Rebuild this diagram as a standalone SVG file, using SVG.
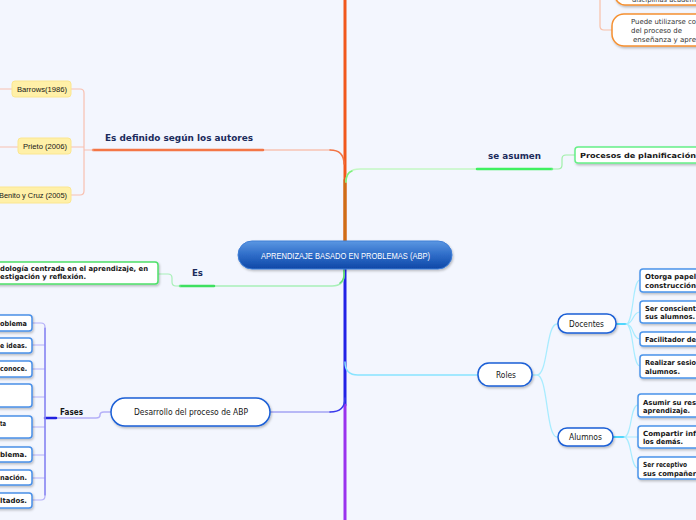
<svg xmlns="http://www.w3.org/2000/svg" width="696" height="520" viewBox="0 0 696 520">
<defs>
<linearGradient id="gC" x1="0" y1="0" x2="0" y2="1">
<stop offset="0" stop-color="#5b97e2"/>
<stop offset="0.5" stop-color="#2e6cc8"/>
<stop offset="1" stop-color="#0e47a6"/>
</linearGradient>
<filter id="sh" x="-20%" y="-30%" width="140%" height="170%">
<feDropShadow dx="1" dy="1.5" stdDeviation="0.8" flood-color="#000" flood-opacity="0.25"/>
</filter>
<style>
.lbl{font-family:"DejaVu Sans","Liberation Sans",sans-serif;font-weight:bold;font-size:9px;fill:#1b2b5c}
.nt{font-family:"DejaVu Sans","Liberation Sans",sans-serif;font-size:8.5px;fill:#161616}
.sb{font-family:"DejaVu Sans","Liberation Sans",sans-serif;font-weight:bold;font-size:7px;fill:#161616}
.sr{font-family:"DejaVu Sans","Liberation Sans",sans-serif;font-size:7px;fill:#333}
.au{font-family:"Liberation Sans","DejaVu Sans",sans-serif;font-size:8px;fill:#161616}
.ct{font-family:"Liberation Sans","DejaVu Sans",sans-serif;font-size:8.5px;fill:#fff}
.c{fill:none;stroke-linecap:round}
.box{fill:#fff;stroke-width:1.5}
</style>
</defs>
<rect width="696" height="520" fill="#f3f6fe"/>

<g id="connectors">
<!-- trunk -->
<path class="c" d="M345,241 V0" stroke="#f1581d" stroke-width="3"/>
<path class="c" d="M345,241 V180" stroke="#cd6e16" stroke-width="3"/>
<path class="c" d="M345,269 V405" stroke="#2222e6" stroke-width="3"/>
<path class="c" d="M345,405 V520" stroke="#9a32ee" stroke-width="3"/>
<!-- Es definido -->
<path class="c" d="M263,150 H330" stroke="#f8c4b4" stroke-width="1.5"/>
<path class="c" d="M330,150 Q344,150 344,164" stroke="#f27444" stroke-width="1.5"/>
<path class="c" d="M93,150 H263" stroke="#f47646" stroke-width="2.5"/>
<path class="c" d="M93,150 H84 M71,89 H80 Q84,89 84,93 V191 Q84,195 80,195 H71 M71,147 H84" stroke="#f8c0b0" stroke-width="1.2"/>
<path class="c" d="M0,89 H12 M0,147 H18" stroke="#f8c0b0" stroke-width="1.2"/>
<!-- Es -->
<path class="c" d="M344,270 V275 Q344,286 332,286 H214" stroke="#a8f0b8" stroke-width="1.5"/>
<path class="c" d="M344,270 V275 Q344,280 340,283" stroke="#5ee070" stroke-width="1.5"/>
<path class="c" d="M214,286 H180" stroke="#3ee060" stroke-width="2.5"/>
<path class="c" d="M180,286 H176 Q172,286 172,282 V278 Q172,274 168,274 H158" stroke="#a8f0b8" stroke-width="1.2"/>
<!-- se asumen -->
<path class="c" d="M346,182 Q346,169 360,169 H477" stroke="#c4f8c4" stroke-width="1.5"/>
<path class="c" d="M346,182 Q346,173 352,171" stroke="#7ef07e" stroke-width="1.5"/>
<path class="c" d="M477,169 H552" stroke="#3ef060" stroke-width="2.5"/>
<path class="c" d="M552,169 H558 Q562,169 562,165 V159 Q562,155 566,155 H575" stroke="#a0f0a8" stroke-width="1.2"/>
<!-- top right orange -->
<path class="c" d="M600,0 V26 Q600,30 604,30 H612" stroke="#f8c0a8" stroke-width="1.2"/>
<!-- Desarrollo -->
<path class="c" d="M270,412 H330" stroke="#a4a4f4" stroke-width="1.5"/>
<path class="c" d="M330,412 Q345,412 345,398" stroke="#3a3aec" stroke-width="1.5"/>
<path class="c" d="M111,412 H104 Q100,412 100,415 Q100,418 96,418 H56" stroke="#b4b0f8" stroke-width="1.5"/>
<path class="c" d="M56,418 H45" stroke="#2020e0" stroke-width="2.5"/>
<path class="c" d="M32,323 H41 Q45,323 45,327 V496 Q45,500 41,500 H32 M32,345 H45 M32,369 H45 M32,397 H45 M32,427 H45 M32,455 H45 M32,478 H45" stroke="#b4b0f8" stroke-width="1.2"/>
<path class="c" d="M45,328 V495" stroke="#7a78f0" stroke-width="1.2"/>
<!-- Roles -->
<path class="c" d="M345,362 Q345,375 358,375 H478" stroke="#88e4ff" stroke-width="1.5"/>
<path class="c" d="M532,375 H537 C548,375 546,324 557,324 M532,375 H537 C548,375 546,437 557,437" stroke="#a8ecff" stroke-width="1.3"/>
<path class="c" d="M616,324 H626" stroke="#50d6fc" stroke-width="2"/>
<path class="c" d="M626,324 C634,324 632,280 640,280 M626,324 C634,324 632,312 640,312 M626,324 C634,324 632,339 640,339 M626,324 C634,324 632,366 640,366" stroke="#a8ecff" stroke-width="1.2"/>
<path class="c" d="M613,437 H624" stroke="#50d6fc" stroke-width="2"/>
<path class="c" d="M624,437 C632,437 630,405 638,405 M624,437 H638 M624,437 C632,437 630,468 638,468" stroke="#a8ecff" stroke-width="1.2"/>
</g>

<g id="central">
<rect x="238" y="241" width="214" height="28" rx="14" fill="url(#gC)" stroke="#3f7ed6" stroke-width="1" filter="url(#sh)"/>
<text class="ct" x="261" y="259" textLength="169" lengthAdjust="spacingAndGlyphs">APRENDIZAJE BASADO EN PROBLEMAS (ABP)</text>
</g>

<g id="lbl-definido"><text class="lbl" x="105" y="141" textLength="148" lengthAdjust="spacingAndGlyphs">Es definido según los autores</text></g>
<g id="lbl-asumen"><text class="lbl" x="488" y="159" textLength="53" lengthAdjust="spacingAndGlyphs">se asumen</text></g>
<g id="lbl-es"><text class="lbl" x="192" y="276" textLength="11" lengthAdjust="spacingAndGlyphs">Es</text></g>
<g id="lbl-fases"><text class="lbl" x="60" y="415" font-size="8" style="fill:#161616" textLength="23" lengthAdjust="spacingAndGlyphs">Fases</text></g>

<g id="barrows">
<rect x="12" y="81" width="59" height="16" rx="3" fill="#fff0a8" stroke="#fbe690" stroke-width="1"/>
<text class="au" x="17" y="92" textLength="50" lengthAdjust="spacingAndGlyphs">Barrows(1986)</text>
</g>
<g id="prieto">
<rect x="18" y="138" width="53" height="16" rx="3" fill="#fff0a8" stroke="#fbe690" stroke-width="1"/>
<text class="au" x="23" y="149" textLength="44" lengthAdjust="spacingAndGlyphs">Prieto (2006)</text>
</g>
<g id="benito">
<rect x="-5" y="187" width="76" height="16" rx="3" fill="#fff0a8" stroke="#fbe690" stroke-width="1"/>
<text class="au" x="-1" y="198" textLength="68" lengthAdjust="spacingAndGlyphs">Benito y Cruz (2005)</text>
</g>

<g id="es-node">
<rect class="box" x="-10" y="262" width="168" height="22" rx="3" stroke="#4fe06a" filter="url(#sh)"/>
<text class="sb" x="0" y="271" textLength="148" lengthAdjust="spacingAndGlyphs">dología centrada en el aprendizaje, en</text>
<text class="sb" x="0" y="279" textLength="86" lengthAdjust="spacingAndGlyphs">estigación y reflexión.</text>
</g>

<g id="procesos">
<rect class="box" x="575" y="147" width="140" height="16" rx="3" stroke="#66f088" filter="url(#sh)"/>
<text class="sb" x="580" y="158" font-size="8" textLength="116" lengthAdjust="spacingAndGlyphs">Procesos de planificación</text>
</g>

<g id="disciplinas">
<rect class="box" x="615" y="-30" width="120" height="35" rx="10" stroke="#f59030" filter="url(#sh)"/>
<text class="sr" x="632" y="1.5" textLength="64" lengthAdjust="spacingAndGlyphs">disciplinas académ</text>
</g>
<g id="puede">
<rect class="box" x="612" y="14" width="120" height="32" rx="12" stroke="#f59030" filter="url(#sh)"/>
<text class="sr" x="631" y="24" textLength="65" lengthAdjust="spacingAndGlyphs">Puede utilizarse co</text>
<text class="sr" x="631" y="33" textLength="51" lengthAdjust="spacingAndGlyphs">del proceso de</text>
<text class="sr" x="633" y="42" textLength="63" lengthAdjust="spacingAndGlyphs">enseñanza y apre</text>
</g>

<g id="desarrollo">
<rect class="box" x="111" y="398" width="159" height="28" rx="14" stroke="#1a5fd6" filter="url(#sh)"/>
<text class="nt" x="134" y="415" textLength="114" lengthAdjust="spacingAndGlyphs">Desarrollo del proceso de ABP</text>
</g>

<g id="fase1"><rect class="box" x="-10" y="315" width="42" height="16" rx="3" stroke="#4a90e8" filter="url(#sh)"/><text class="sb" x="0" y="326" textLength="27" lengthAdjust="spacingAndGlyphs">oblema</text></g>
<g id="fase2"><rect class="box" x="-10" y="338" width="42" height="15" rx="3" stroke="#4a90e8" filter="url(#sh)"/><text class="sb" x="0" y="348" textLength="27" lengthAdjust="spacingAndGlyphs">e ideas.</text></g>
<g id="fase3"><rect class="box" x="-10" y="361" width="42" height="16" rx="3" stroke="#4a90e8" filter="url(#sh)"/><text class="sb" x="0" y="371" textLength="27" lengthAdjust="spacingAndGlyphs">conoce.</text></g>
<g id="fase4"><rect class="box" x="-10" y="384" width="42" height="23" rx="3" stroke="#4a90e8" filter="url(#sh)"/></g>
<g id="fase5"><rect class="box" x="-10" y="416" width="42" height="22" rx="3" stroke="#4a90e8" filter="url(#sh)"/><text class="sb" x="0" y="426" textLength="6" lengthAdjust="spacingAndGlyphs">ta</text></g>
<g id="fase6"><rect class="box" x="-10" y="447" width="42" height="15" rx="3" stroke="#4a90e8" filter="url(#sh)"/><text class="sb" x="0" y="457" textLength="27" lengthAdjust="spacingAndGlyphs">blema.</text></g>
<g id="fase7"><rect class="box" x="-10" y="470" width="42" height="15" rx="3" stroke="#4a90e8" filter="url(#sh)"/><text class="sb" x="0" y="480" textLength="27" lengthAdjust="spacingAndGlyphs">nación.</text></g>
<g id="fase8"><rect class="box" x="-10" y="493" width="42" height="15" rx="3" stroke="#4a90e8" filter="url(#sh)"/><text class="sb" x="0" y="503" textLength="27" lengthAdjust="spacingAndGlyphs">ltados.</text></g>

<g id="roles">
<rect class="box" x="478" y="363" width="54" height="23" rx="11" stroke="#1a5fd6" filter="url(#sh)"/>
<text class="nt" x="496" y="378" textLength="20" lengthAdjust="spacingAndGlyphs">Roles</text>
</g>
<g id="docentes">
<rect class="box" x="558" y="314" width="58" height="19" rx="9" stroke="#1a5fd6" filter="url(#sh)"/>
<text class="nt" x="569" y="327" textLength="35" lengthAdjust="spacingAndGlyphs">Docentes</text>
</g>
<g id="alumnos">
<rect class="box" x="558" y="428" width="55" height="18" rx="9" stroke="#1a5fd6" filter="url(#sh)"/>
<text class="nt" x="569" y="440" textLength="33" lengthAdjust="spacingAndGlyphs">Alumnos</text>
</g>

<g id="doc1"><rect class="box" x="640" y="269" width="80" height="23" rx="3" stroke="#4a94ea" filter="url(#sh)"/>
<text class="sb" x="645" y="279" textLength="51" lengthAdjust="spacingAndGlyphs">Otorga papel</text>
<text class="sb" x="645" y="288" textLength="51" lengthAdjust="spacingAndGlyphs">construcción</text></g>
<g id="doc2"><rect class="box" x="640" y="301" width="80" height="22" rx="3" stroke="#4a94ea" filter="url(#sh)"/>
<text class="sb" x="645" y="311" textLength="51" lengthAdjust="spacingAndGlyphs">Ser conscient</text>
<text class="sb" x="645" y="319" textLength="50" lengthAdjust="spacingAndGlyphs">sus alumnos.</text></g>
<g id="doc3"><rect class="box" x="640" y="332" width="80" height="14" rx="3" stroke="#4a94ea" filter="url(#sh)"/>
<text class="sb" x="645" y="342" textLength="51" lengthAdjust="spacingAndGlyphs">Facilitador de</text></g>
<g id="doc4"><rect class="box" x="640" y="355" width="80" height="23" rx="3" stroke="#4a94ea" filter="url(#sh)"/>
<text class="sb" x="645" y="365" textLength="51" lengthAdjust="spacingAndGlyphs">Realizar sesio</text>
<text class="sb" x="645" y="374" textLength="35" lengthAdjust="spacingAndGlyphs">alumnos.</text></g>

<g id="alu1"><rect class="box" x="638" y="394" width="80" height="23" rx="3" stroke="#4a94ea" filter="url(#sh)"/>
<text class="sb" x="643" y="404.5" textLength="53" lengthAdjust="spacingAndGlyphs">Asumir su res</text>
<text class="sb" x="643" y="412.5" textLength="47" lengthAdjust="spacingAndGlyphs">aprendizaje.</text></g>
<g id="alu2"><rect class="box" x="638" y="426" width="80" height="22" rx="3" stroke="#4a94ea" filter="url(#sh)"/>
<text class="sb" x="643" y="436" textLength="53" lengthAdjust="spacingAndGlyphs">Compartir inf</text>
<text class="sb" x="643" y="444" textLength="40" lengthAdjust="spacingAndGlyphs">los demás.</text></g>
<g id="alu3"><rect class="box" x="638" y="457" width="80" height="22" rx="3" stroke="#4a94ea" filter="url(#sh)"/>
<text class="sb" x="643" y="467" textLength="44" lengthAdjust="spacingAndGlyphs">Ser receptivo</text>
<text class="sb" x="643" y="476" textLength="53" lengthAdjust="spacingAndGlyphs">sus compañer</text></g>
</svg>
